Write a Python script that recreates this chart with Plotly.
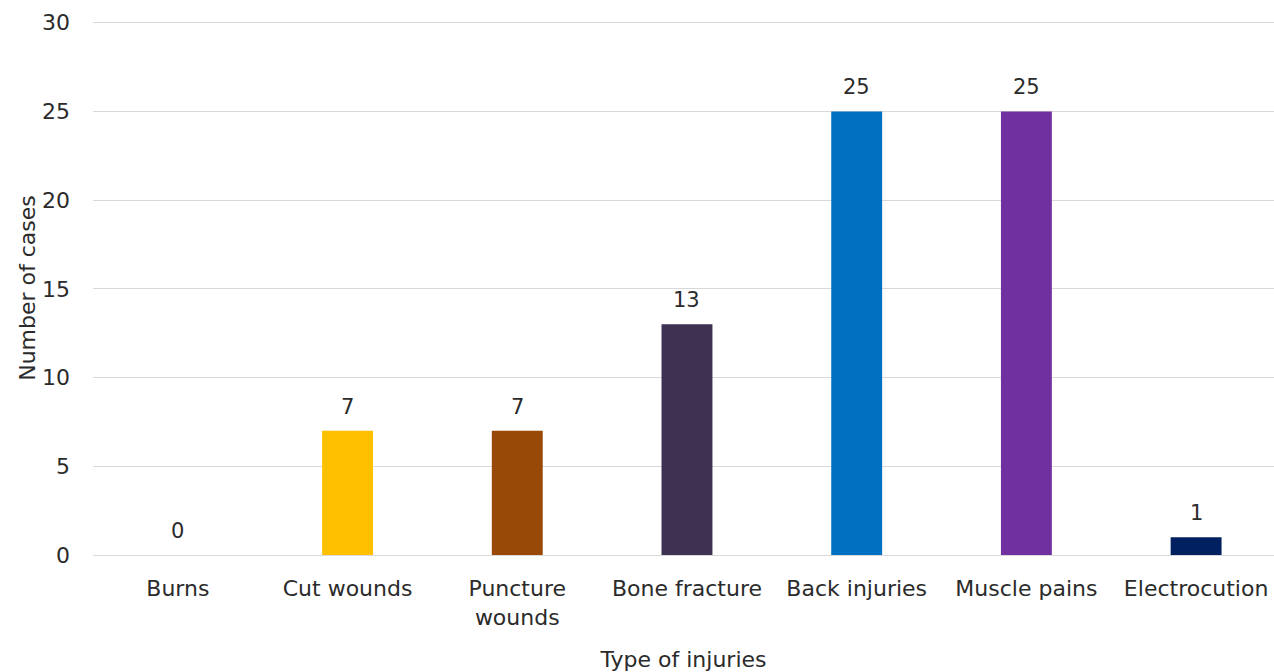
import plotly.graph_objects as go

categories = ["Burns", "Cut wounds", "Puncture<br>wounds", "Bone fracture", "Back injuries", "Muscle pains", "Electrocution"]
cases = [0, 7, 7, 13, 25, 25, 1]
colors = ["#4472C4", "#FFC000", "#984807", "#3F3151", "#0070C0", "#7030A0", "#002060"]
y_ticks = [0, 5, 10, 15, 20, 25, 30]

font_family = "DejaVu Sans, Verdana, sans-serif"
text_color = "#2b2b2b"
fs = 22

fig = go.Figure(go.Bar(
    x=categories,
    y=cases,
    marker=dict(color=colors, line=dict(width=0)),
    width=0.3,
    hoverinfo="x+y",
))

for c, v in zip(categories, cases):
    fig.add_annotation(
        x=c, y=v, text=str(v), showarrow=False,
        yanchor="bottom", yshift=10,
        font=dict(family=font_family, size=fs - 1, color=text_color),
    )

fig.update_layout(
    width=1274, height=672,
    margin=dict(l=93, r=0, t=21, b=117),
    paper_bgcolor="white", plot_bgcolor="white",
    showlegend=False,
    font=dict(family=font_family, size=fs, color=text_color),
)
fig.update_xaxes(
    range=[-0.5, 6.459],
    showgrid=False, showline=False, ticks="",
    tickfont=dict(size=fs),
    ticklabelstandoff=18,
    title=dict(text="Type of injuries", font=dict(size=fs), standoff=24),
)
fig.update_yaxes(
    range=[0, 30.1],
    tickvals=y_ticks,
    showgrid=True, gridcolor="#d9d9d9", gridwidth=1,
    zeroline=True, zerolinecolor="#d9d9d9", zerolinewidth=1,
    showline=False, ticks="",
    ticklabelstandoff=22,
    tickfont=dict(size=fs),
    title=dict(text="Number of cases", font=dict(size=fs), standoff=0),
)

fig.write_html("out.html")
